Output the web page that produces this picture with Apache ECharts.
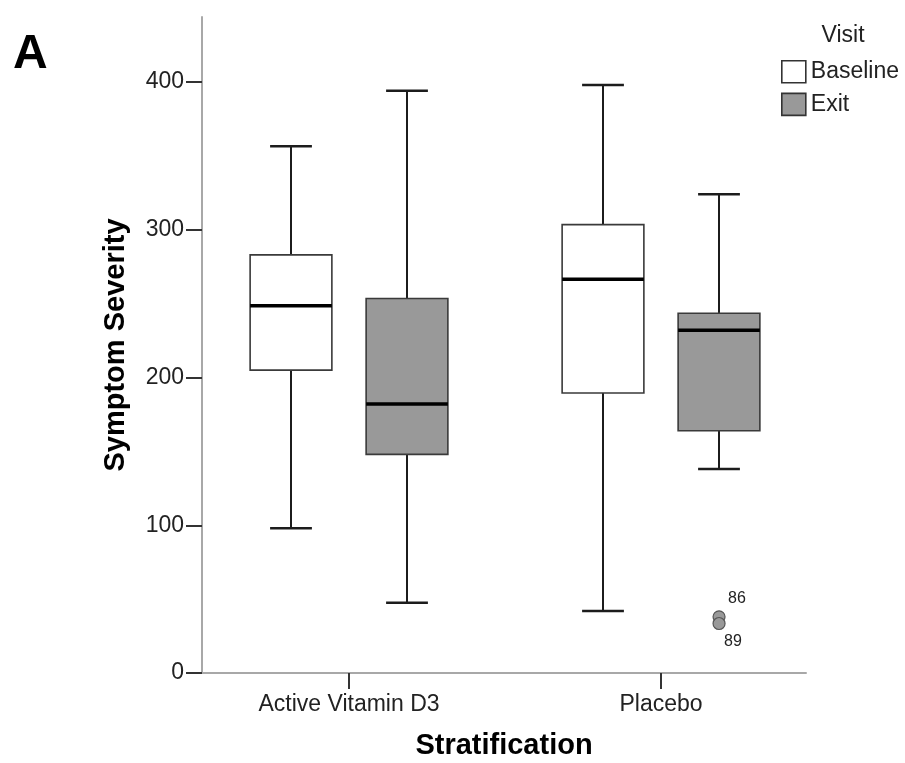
<!DOCTYPE html>
<html>
<head>
<meta charset="utf-8">
<script src="https://cdn.jsdelivr.net/npm/echarts@6/dist/echarts.min.js"></script>
<style>
  html, body { margin: 0; padding: 0; background: #fff; }
  #chart { width: 905px; height: 763px; }
</style>
</head>
<body>
<div id="chart"></div>
<script>
// Strata on the x axis and the two visits drawn side by side
const categories = ['Active Vitamin D3', 'Placebo'];
const visits = ['Baseline', 'Exit'];

// Box summaries per stratum: [lower whisker, Q1, median, Q3, upper whisker]
const baselineStats = [
  [98, 205, 248.5, 283, 356.5],
  [42, 189.5, 266.5, 303.5, 398]
];
const exitStats = [
  [47.5, 148, 182, 253.5, 394],
  [138, 164, 232, 243.5, 324]
];

// Outlying cases: [stratum index, visit index, value, case number]
const outliers = [
  [1, 1, 38, '86'],
  [1, 1, 33.5, '89']
];

const yTicks = [0, 100, 200, 300, 400];

const FONT = "'Liberation Sans', Arial, sans-serif";
const fills = ['#ffffff', '#999999'];

// Horizontal placement of each visit inside a stratum, as a share of one stratum step
const VISIT_SHIFT = 0.186;
const BOX_HALF = 0.131;
const CAP_HALF = 0.067;

function toRows(stats) {
  return stats.map((s, i) => [i + 1].concat(s));
}

function boxRenderer(visitIdx) {
  return function (params, api) {
    const cat = api.value(0);
    const step = api.size([1, 0])[0];
    const cx = Math.round(api.coord([cat, 0])[0] + (visitIdx === 0 ? -1 : 1) * step * VISIT_SHIFT);
    const half = step * BOX_HALF;
    const cap = step * CAP_HALF;
    const py = (i) => api.coord([cat, api.value(i)])[1];
    const lo = py(1), q1 = py(2), med = py(3), q3 = py(4), hi = py(5);
    const whisker = { stroke: '#1c1c1c', lineWidth: 2 };
    const capStyle = { stroke: '#1c1c1c', lineWidth: 2.5 };
    return {
      type: 'group',
      children: [
        { type: 'line', shape: { x1: cx, y1: q3, x2: cx, y2: hi }, style: whisker },
        { type: 'line', shape: { x1: cx, y1: q1, x2: cx, y2: lo }, style: whisker },
        { type: 'line', shape: { x1: cx - cap, y1: hi, x2: cx + cap, y2: hi }, style: capStyle },
        { type: 'line', shape: { x1: cx - cap, y1: lo, x2: cx + cap, y2: lo }, style: capStyle },
        {
          type: 'rect',
          shape: { x: cx - half, y: q3, width: 2 * half, height: q1 - q3 },
          style: { fill: fills[visitIdx], stroke: '#3a3a3a', lineWidth: 1.6 }
        },
        {
          type: 'line',
          shape: { x1: cx - half, y1: med, x2: cx + half, y2: med },
          style: { stroke: '#000', lineWidth: 3.5 }
        }
      ]
    };
  };
}

function outlierRenderer(params, api) {
  const cat = api.value(0);
  const visitIdx = api.value(1);
  const val = api.value(2);
  const id = outliers[params.dataIndex][3];
  const step = api.size([1, 0])[0];
  const cx = api.coord([cat, 0])[0] + (visitIdx === 0 ? -1 : 1) * step * VISIT_SHIFT;
  const cy = api.coord([cat, val])[1];
  const peers = outliers.filter(o => o[0] === cat - 1 && o[1] === visitIdx).map(o => o[2]);
  const above = val >= Math.max.apply(null, peers);
  return {
    type: 'group',
    children: [
      {
        type: 'circle',
        shape: { cx: cx, cy: cy, r: 6 },
        style: { fill: '#999', stroke: '#555', lineWidth: 1.2 }
      },
      {
        type: 'text',
        x: cx + (above ? 9 : 5),
        y: cy + (above ? -18 : 18),
        style: {
          text: id, fill: '#222', font: '16px ' + FONT,
          textAlign: 'left', textVerticalAlign: 'middle'
        }
      }
    ]
  };
}

const chart = echarts.init(document.getElementById('chart'), null, { renderer: 'canvas' });

chart.setOption({
  animation: false,
  backgroundColor: '#fff',
  grid: { left: 202, right: 99, top: 17, bottom: 90 },
  xAxis: {
    type: 'value',
    min: 0.5288,
    max: 2.4647,
    splitLine: { show: false },
    axisLine: { show: true, onZero: false, lineStyle: { color: '#a8a8a8', width: 2 } },
    axisTick: {
      show: true, customValues: [1, 2], length: 16,
      lineStyle: { color: '#333', width: 2 }
    },
    axisLabel: {
      customValues: [1, 2],
      formatter: (v) => categories[Math.round(v) - 1] || '',
      color: '#222', fontSize: 23, fontFamily: FONT, margin: 20
    }
  },
  yAxis: {
    type: 'value',
    min: 0,
    max: 444,
    splitLine: { show: false },
    axisLine: { show: true, lineStyle: { color: '#a8a8a8', width: 2 } },
    axisTick: {
      show: true, customValues: yTicks, length: 16,
      lineStyle: { color: '#333', width: 2 }
    },
    axisLabel: {
      customValues: yTicks,
      color: '#222', fontSize: 23, fontFamily: FONT, margin: 18
    }
  },
  legend: {
    orient: 'vertical',
    left: 781,
    top: 60,
    padding: 0,
    itemWidth: 24,
    itemHeight: 22,
    itemGap: 9,
    selectedMode: false,
    textStyle: { color: '#222', fontSize: 23, fontFamily: FONT },
    data: visits.map((v, i) => ({
      name: v,
      icon: 'rect',
      itemStyle: { color: fills[i], borderColor: '#333', borderWidth: 1.6 }
    }))
  },
  graphic: [
    {
      type: 'text', left: 13, top: 31,
      style: { text: 'A', fill: '#000', font: 'bold 48px ' + FONT }
    },
    {
      type: 'text', x: 843, y: 36,
      style: { text: 'Visit', fill: '#222', font: '23px ' + FONT, textAlign: 'center', textVerticalAlign: 'middle' }
    },
    {
      type: 'text', x: 504, y: 746,
      style: { text: 'Stratification', fill: '#000', font: 'bold 29px ' + FONT, textAlign: 'center', textVerticalAlign: 'middle' }
    },
    {
      type: 'text', x: 116, y: 345, rotation: Math.PI / 2,
      style: { text: 'Symptom Severity', fill: '#000', font: 'bold 29px ' + FONT, textAlign: 'center', textVerticalAlign: 'middle' }
    }
  ],
  series: [
    {
      name: visits[0],
      type: 'custom',
      renderItem: boxRenderer(0),
      itemStyle: { color: fills[0], borderColor: '#333' },
      encode: { x: 0, y: [1, 2, 3, 4, 5] },
      data: toRows(baselineStats),
      clip: false
    },
    {
      name: visits[1],
      type: 'custom',
      renderItem: boxRenderer(1),
      itemStyle: { color: fills[1], borderColor: '#333' },
      encode: { x: 0, y: [1, 2, 3, 4, 5] },
      data: toRows(exitStats),
      clip: false
    },
    {
      name: 'outliers',
      type: 'custom',
      renderItem: outlierRenderer,
      encode: { x: 0, y: 2 },
      data: outliers.map(o => [o[0] + 1, o[1], o[2]]),
      clip: false,
      z: 5
    }
  ]
});
</script>
</body>
</html>
